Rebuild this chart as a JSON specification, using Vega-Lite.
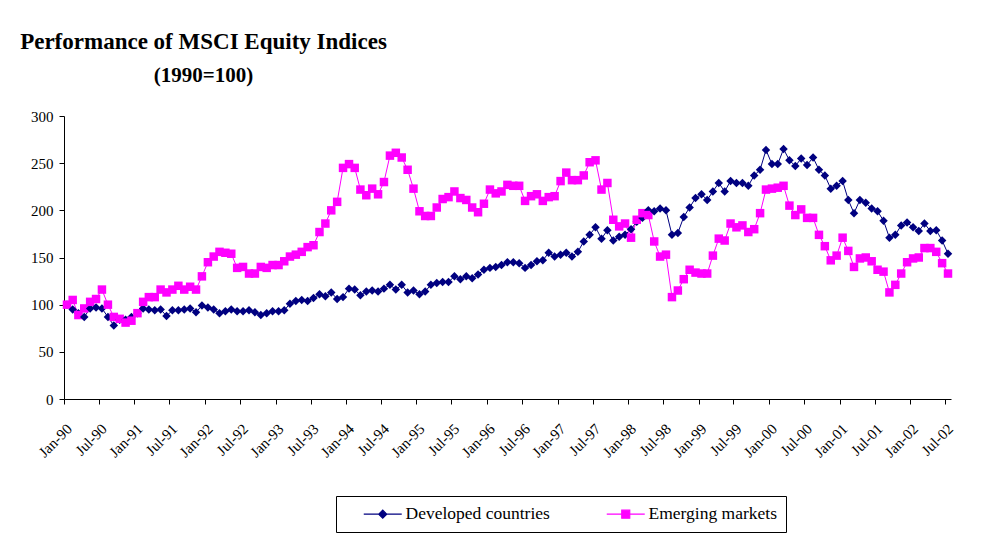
{
  "$schema": "https://vega.github.io/schema/vega-lite/v6.json",
  "autosize": {"type": "none"},
  "padding": {"left": 64, "top": 116, "right": 51, "bottom": 147},
  "width": 887,
  "height": 283,
  "background": "white",
  "title": {
    "text": "Performance of MSCI Equity Indices",
    "subtitle": "(1990=100)",
    "anchor": "start",
    "align": "center",
    "dx": 173,
    "offset": 23,
    "font": "Liberation Serif",
    "fontSize": 23,
    "fontWeight": "bold",
    "color": "black",
    "subtitleFont": "Liberation Serif",
    "subtitleFontSize": 21,
    "subtitleFontWeight": "bold",
    "subtitleColor": "black",
    "subtitlePadding": 11
  },
  "data": {
    "values": [
      {"m":"1990-01","Developed countries":100,"Emerging markets":100},
      {"m":"1990-02","Developed countries":95,"Emerging markets":105},
      {"m":"1990-03","Developed countries":91,"Emerging markets":89},
      {"m":"1990-04","Developed countries":87,"Emerging markets":96},
      {"m":"1990-05","Developed countries":96,"Emerging markets":103},
      {"m":"1990-06","Developed countries":97,"Emerging markets":106},
      {"m":"1990-07","Developed countries":96,"Emerging markets":116},
      {"m":"1990-08","Developed countries":87,"Emerging markets":100},
      {"m":"1990-09","Developed countries":78,"Emerging markets":87},
      {"m":"1990-10","Developed countries":84,"Emerging markets":85},
      {"m":"1990-11","Developed countries":84,"Emerging markets":81},
      {"m":"1990-12","Developed countries":87,"Emerging markets":83},
      {"m":"1991-01","Developed countries":91,"Emerging markets":91},
      {"m":"1991-02","Developed countries":96,"Emerging markets":103},
      {"m":"1991-03","Developed countries":95,"Emerging markets":108},
      {"m":"1991-04","Developed countries":94,"Emerging markets":108},
      {"m":"1991-05","Developed countries":95,"Emerging markets":116},
      {"m":"1991-06","Developed countries":88,"Emerging markets":113},
      {"m":"1991-07","Developed countries":94,"Emerging markets":116},
      {"m":"1991-08","Developed countries":94,"Emerging markets":120},
      {"m":"1991-09","Developed countries":95,"Emerging markets":116},
      {"m":"1991-10","Developed countries":96,"Emerging markets":119},
      {"m":"1991-11","Developed countries":92,"Emerging markets":116},
      {"m":"1991-12","Developed countries":99,"Emerging markets":130},
      {"m":"1992-01","Developed countries":97,"Emerging markets":145},
      {"m":"1992-02","Developed countries":95,"Emerging markets":151},
      {"m":"1992-03","Developed countries":91,"Emerging markets":156},
      {"m":"1992-04","Developed countries":93,"Emerging markets":155},
      {"m":"1992-05","Developed countries":95,"Emerging markets":154},
      {"m":"1992-06","Developed countries":93,"Emerging markets":139},
      {"m":"1992-07","Developed countries":93,"Emerging markets":140},
      {"m":"1992-08","Developed countries":94,"Emerging markets":133},
      {"m":"1992-09","Developed countries":92,"Emerging markets":133},
      {"m":"1992-10","Developed countries":89,"Emerging markets":140},
      {"m":"1992-11","Developed countries":91,"Emerging markets":139},
      {"m":"1992-12","Developed countries":93,"Emerging markets":142},
      {"m":"1993-01","Developed countries":93,"Emerging markets":142},
      {"m":"1993-02","Developed countries":94,"Emerging markets":146},
      {"m":"1993-03","Developed countries":101,"Emerging markets":151},
      {"m":"1993-04","Developed countries":104,"Emerging markets":153},
      {"m":"1993-05","Developed countries":105,"Emerging markets":156},
      {"m":"1993-06","Developed countries":104,"Emerging markets":161},
      {"m":"1993-07","Developed countries":107,"Emerging markets":163},
      {"m":"1993-08","Developed countries":111,"Emerging markets":177},
      {"m":"1993-09","Developed countries":109,"Emerging markets":186},
      {"m":"1993-10","Developed countries":113,"Emerging markets":200},
      {"m":"1993-11","Developed countries":106,"Emerging markets":209},
      {"m":"1993-12","Developed countries":108,"Emerging markets":245},
      {"m":"1994-01","Developed countries":117,"Emerging markets":249},
      {"m":"1994-02","Developed countries":116,"Emerging markets":245},
      {"m":"1994-03","Developed countries":110,"Emerging markets":222},
      {"m":"1994-04","Developed countries":114,"Emerging markets":216},
      {"m":"1994-05","Developed countries":115,"Emerging markets":223},
      {"m":"1994-06","Developed countries":114,"Emerging markets":217},
      {"m":"1994-07","Developed countries":117,"Emerging markets":230},
      {"m":"1994-08","Developed countries":121,"Emerging markets":258},
      {"m":"1994-09","Developed countries":116,"Emerging markets":261},
      {"m":"1994-10","Developed countries":121,"Emerging markets":256},
      {"m":"1994-11","Developed countries":113,"Emerging markets":243},
      {"m":"1994-12","Developed countries":115,"Emerging markets":223},
      {"m":"1995-01","Developed countries":111,"Emerging markets":199},
      {"m":"1995-02","Developed countries":114,"Emerging markets":194},
      {"m":"1995-03","Developed countries":121,"Emerging markets":194},
      {"m":"1995-04","Developed countries":123,"Emerging markets":203},
      {"m":"1995-05","Developed countries":124,"Emerging markets":212},
      {"m":"1995-06","Developed countries":124,"Emerging markets":214},
      {"m":"1995-07","Developed countries":130,"Emerging markets":220},
      {"m":"1995-08","Developed countries":127,"Emerging markets":213},
      {"m":"1995-09","Developed countries":130,"Emerging markets":211},
      {"m":"1995-10","Developed countries":128,"Emerging markets":203},
      {"m":"1995-11","Developed countries":132,"Emerging markets":198},
      {"m":"1995-12","Developed countries":137,"Emerging markets":207},
      {"m":"1996-01","Developed countries":139,"Emerging markets":222},
      {"m":"1996-02","Developed countries":140,"Emerging markets":218},
      {"m":"1996-03","Developed countries":142,"Emerging markets":220},
      {"m":"1996-04","Developed countries":145,"Emerging markets":227},
      {"m":"1996-05","Developed countries":145,"Emerging markets":226},
      {"m":"1996-06","Developed countries":144,"Emerging markets":226},
      {"m":"1996-07","Developed countries":139,"Emerging markets":210},
      {"m":"1996-08","Developed countries":142,"Emerging markets":215},
      {"m":"1996-09","Developed countries":146,"Emerging markets":217},
      {"m":"1996-10","Developed countries":147,"Emerging markets":210},
      {"m":"1996-11","Developed countries":155,"Emerging markets":214},
      {"m":"1996-12","Developed countries":151,"Emerging markets":215},
      {"m":"1997-01","Developed countries":153,"Emerging markets":231},
      {"m":"1997-02","Developed countries":155,"Emerging markets":240},
      {"m":"1997-03","Developed countries":151,"Emerging markets":232},
      {"m":"1997-04","Developed countries":156,"Emerging markets":232},
      {"m":"1997-05","Developed countries":167,"Emerging markets":237},
      {"m":"1997-06","Developed countries":174,"Emerging markets":251},
      {"m":"1997-07","Developed countries":182,"Emerging markets":253},
      {"m":"1997-08","Developed countries":170,"Emerging markets":222},
      {"m":"1997-09","Developed countries":179,"Emerging markets":229},
      {"m":"1997-10","Developed countries":168,"Emerging markets":190},
      {"m":"1997-11","Developed countries":172,"Emerging markets":183},
      {"m":"1997-12","Developed countries":174,"Emerging markets":186},
      {"m":"1998-01","Developed countries":180,"Emerging markets":171},
      {"m":"1998-02","Developed countries":188,"Emerging markets":190},
      {"m":"1998-03","Developed countries":192,"Emerging markets":197},
      {"m":"1998-04","Developed countries":200,"Emerging markets":195},
      {"m":"1998-05","Developed countries":199,"Emerging markets":167},
      {"m":"1998-06","Developed countries":202,"Emerging markets":151},
      {"m":"1998-07","Developed countries":200,"Emerging markets":153},
      {"m":"1998-08","Developed countries":174,"Emerging markets":108},
      {"m":"1998-09","Developed countries":176,"Emerging markets":115},
      {"m":"1998-10","Developed countries":193,"Emerging markets":127},
      {"m":"1998-11","Developed countries":203,"Emerging markets":137},
      {"m":"1998-12","Developed countries":213,"Emerging markets":134},
      {"m":"1999-01","Developed countries":217,"Emerging markets":133},
      {"m":"1999-02","Developed countries":211,"Emerging markets":133},
      {"m":"1999-03","Developed countries":220,"Emerging markets":152},
      {"m":"1999-04","Developed countries":229,"Emerging markets":170},
      {"m":"1999-05","Developed countries":220,"Emerging markets":168},
      {"m":"1999-06","Developed countries":231,"Emerging markets":186},
      {"m":"1999-07","Developed countries":229,"Emerging markets":182},
      {"m":"1999-08","Developed countries":229,"Emerging markets":184},
      {"m":"1999-09","Developed countries":226,"Emerging markets":177},
      {"m":"1999-10","Developed countries":237,"Emerging markets":180},
      {"m":"1999-11","Developed countries":243,"Emerging markets":197},
      {"m":"1999-12","Developed countries":264,"Emerging markets":222},
      {"m":"2000-01","Developed countries":249,"Emerging markets":223},
      {"m":"2000-02","Developed countries":249,"Emerging markets":224},
      {"m":"2000-03","Developed countries":265,"Emerging markets":226},
      {"m":"2000-04","Developed countries":253,"Emerging markets":205},
      {"m":"2000-05","Developed countries":247,"Emerging markets":195},
      {"m":"2000-06","Developed countries":255,"Emerging markets":201},
      {"m":"2000-07","Developed countries":248,"Emerging markets":192},
      {"m":"2000-08","Developed countries":256,"Emerging markets":192},
      {"m":"2000-09","Developed countries":243,"Emerging markets":174},
      {"m":"2000-10","Developed countries":237,"Emerging markets":162},
      {"m":"2000-11","Developed countries":223,"Emerging markets":147},
      {"m":"2000-12","Developed countries":226,"Emerging markets":152},
      {"m":"2001-01","Developed countries":231,"Emerging markets":171},
      {"m":"2001-02","Developed countries":211,"Emerging markets":157},
      {"m":"2001-03","Developed countries":197,"Emerging markets":140},
      {"m":"2001-04","Developed countries":211,"Emerging markets":149},
      {"m":"2001-05","Developed countries":208,"Emerging markets":150},
      {"m":"2001-06","Developed countries":202,"Emerging markets":146},
      {"m":"2001-07","Developed countries":199,"Emerging markets":137},
      {"m":"2001-08","Developed countries":189,"Emerging markets":135},
      {"m":"2001-09","Developed countries":171,"Emerging markets":113},
      {"m":"2001-10","Developed countries":174,"Emerging markets":121},
      {"m":"2001-11","Developed countries":184,"Emerging markets":133},
      {"m":"2001-12","Developed countries":187,"Emerging markets":145},
      {"m":"2002-01","Developed countries":182,"Emerging markets":149},
      {"m":"2002-02","Developed countries":178,"Emerging markets":150},
      {"m":"2002-03","Developed countries":186,"Emerging markets":160},
      {"m":"2002-04","Developed countries":178,"Emerging markets":160},
      {"m":"2002-05","Developed countries":179,"Emerging markets":156},
      {"m":"2002-06","Developed countries":168,"Emerging markets":144},
      {"m":"2002-07","Developed countries":154,"Emerging markets":133}
    ]
  },
  "transform": [
    {"fold": ["Developed countries", "Emerging markets"], "as": ["series", "value"]}
  ],
  "encoding": {
    "x": {
      "field": "m",
      "timeUnit": "utcyearmonth",
      "type": "temporal",
      "bandPosition": 0.5,
      "title": null,
      "scale": {
        "domain": [
          {"year": 1990, "month": 1, "date": 1, "utc": true},
          {"year": 2002, "month": 8, "date": 1, "utc": true}
        ]
      },
      "axis": {
        "tickCount": {"interval": "month", "step": 6},
        "labelExpr": "utcFormat(datum.value, '%b-%y')",
        "labelAngle": -45,
        "labelAlign": "right",
        "labelBaseline": "top",
        "labelPadding": 17,
        "labelFont": "Liberation Serif",
        "labelFontSize": 15,
        "labelColor": "black",
        "labelOverlap": false,
        "labelFlush": false,
        "domainColor": "black",
        "tickColor": "black",
        "tickSize": 5,
        "grid": false
      }
    },
    "y": {
      "field": "value",
      "type": "quantitative",
      "title": null,
      "scale": {"domain": [0, 300], "nice": false, "zero": true},
      "axis": {
        "values": [0, 50, 100, 150, 200, 250, 300],
        "labelFont": "Liberation Serif",
        "labelFontSize": 15,
        "labelColor": "black",
        "labelPadding": 6,
        "domainColor": "black",
        "tickColor": "black",
        "tickSize": 5,
        "grid": false
      }
    },
    "color": {
      "field": "series",
      "type": "nominal",
      "scale": {
        "domain": ["Developed countries", "Emerging markets"],
        "range": ["#000080", "#FF00FF"]
      },
      "legend": {
        "title": null,
        "orient": "none",
        "legendX": 272,
        "legendY": 380,
        "direction": "horizontal",
        "padding": 9,
        "strokeColor": "black",
        "fillColor": "white",
        "symbolSize": 16,
        "symbolStrokeWidth": 1.2,
        "labelFont": "Liberation Serif",
        "labelFontSize": 17.5,
        "labelColor": "black",
        "labelOffset": 43,
        "columnPadding": 38,
        "encode": {
          "symbols": {
            "update": {
              "shape": {"signal": "datum.value === 'Developed countries' ? 'M5,0L24,0M12.5,0L14.5,-2L16.5,0L14.5,2Z' : 'M5,0L24,0M12.5,-2L16.5,-2L16.5,2L12.5,2Z'"},
              "stroke": {"signal": "datum.value === 'Developed countries' ? '#000080' : '#FF00FF'"},
              "fill": {"signal": "datum.value === 'Developed countries' ? '#000080' : '#FF00FF'"},
              "size": {"value": 16},
              "strokeWidth": {"value": 1.2},
              "opacity": {"value": 1}
            }
          }
        }
      }
    }
  },
  "layer": [
    {
      "mark": {"type": "line", "strokeWidth": 1}
    },
    {
      "mark": {"type": "point", "filled": true, "opacity": 1, "size": 72},
      "encoding": {
        "shape": {
          "condition": {"test": "datum.series === 'Developed countries'", "value": "diamond"},
          "value": "square"
        }
      }
    }
  ],
  "config": {
    "view": {"stroke": null},
    "font": "Liberation Serif"
  }
}
